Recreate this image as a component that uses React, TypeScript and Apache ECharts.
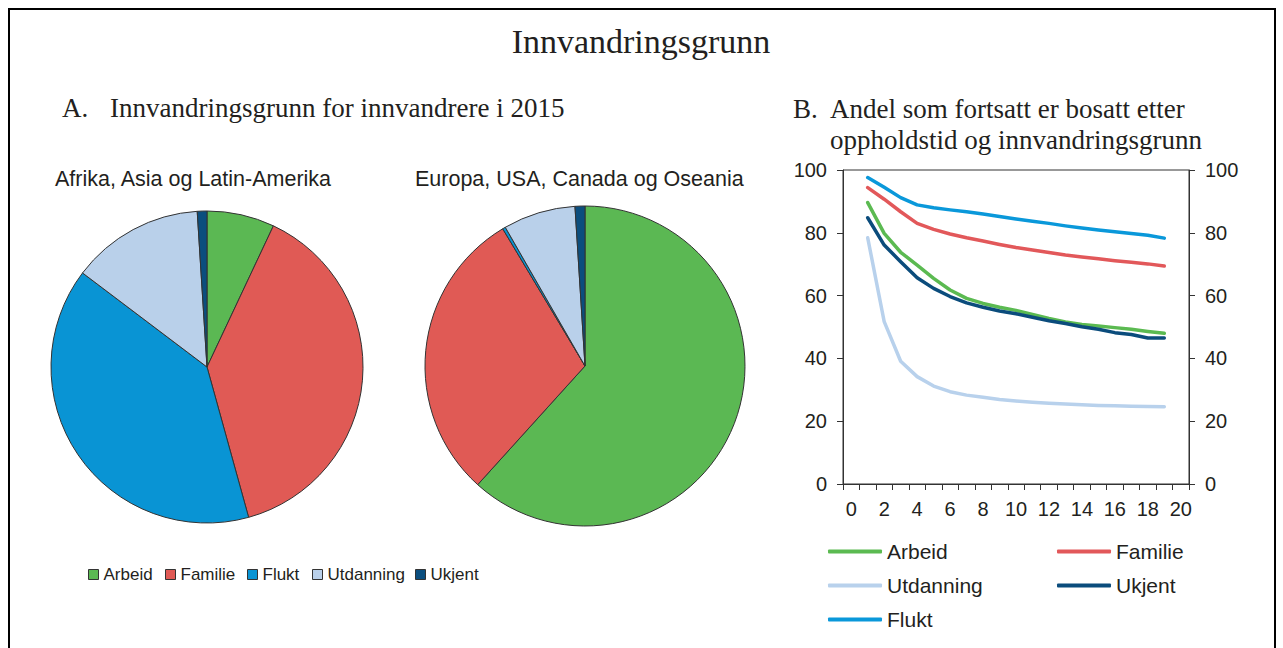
import React, { useEffect, useRef } from 'react';
import * as echarts from 'echarts';

// ---- Data ----
const categories = ['Arbeid', 'Familie', 'Flukt', 'Utdanning', 'Ukjent'];
const afrikaAsiaLatinAmerika = [7.0, 38.7, 39.6, 13.7, 1.0];
const europaUsaCanadaOseania = [61.7, 29.7, 0.3, 7.3, 1.0];

const yearLabels = ['0', '1', '2', '3', '4', '5', '6', '7', '8', '9', '10', '11', '12', '13', '14', '15', '16', '17', '18', '19', '20'];
// values for oppholdstid 1..19 år
const arbeidLine = [89.6, 79.8, 73.8, 69.7, 65.5, 61.8, 59.1, 57.5, 56.3, 55.3, 54.0, 52.7, 51.6, 50.8, 50.3, 49.8, 49.3, 48.6, 48.0];
const familieLine = [94.4, 90.7, 86.7, 83.0, 81.1, 79.6, 78.4, 77.4, 76.3, 75.3, 74.5, 73.7, 72.9, 72.3, 71.7, 71.1, 70.6, 70.1, 69.4];
const utdanningLine = [78.4, 51.7, 39.1, 34.2, 31.2, 29.4, 28.3, 27.6, 26.9, 26.4, 26.0, 25.7, 25.5, 25.2, 25.0, 24.9, 24.8, 24.7, 24.6];
const ukjentLine = [84.8, 76.1, 70.8, 65.7, 62.3, 59.7, 57.7, 56.3, 55.1, 54.2, 53.1, 52.0, 51.1, 50.1, 49.3, 48.2, 47.6, 46.5, 46.5];
const fluktLine = [97.6, 94.5, 91.2, 88.9, 88.0, 87.3, 86.7, 86.0, 85.2, 84.4, 83.7, 83.0, 82.2, 81.5, 80.9, 80.3, 79.8, 79.2, 78.3];

const yTicks = [0, 20, 40, 60, 80, 100];

// ---- Styles ----
const pieColors: Record<string, string> = {
  Arbeid: '#5BB853',
  Familie: '#E05A55',
  Flukt: '#0994D4',
  Utdanning: '#B9D0EA',
  Ukjent: '#0B4E7E',
};
const lineColors: Record<string, string> = {
  Arbeid: '#5BBA51',
  Familie: '#E2585A',
  Utdanning: '#B8D1EC',
  Ukjent: '#0B4C7C',
  Flukt: '#0A98DA',
};
const TXT = '#231F20';
const AX = '#333333';
const SANS = '"Liberation Sans", Arial, sans-serif';
const SERIF = '"Liberation Serif", "Times New Roman", serif';

export default function App() {
  const ref = useRef<HTMLDivElement>(null);

  useEffect(() => {
    if (!ref.current) return;
    const chart = echarts.init(ref.current, null, { renderer: 'svg' });

    const pad = (arr: number[]) => [null, ...arr, null];
    const lineSeriesDefs: [string, number[]][] = [
      ['Arbeid', arbeidLine],
      ['Familie', familieLine],
      ['Utdanning', utdanningLine],
      ['Ukjent', ukjentLine],
      ['Flukt', fluktLine],
    ];

    const pieBase = {
      type: 'pie',
      startAngle: 90,
      clockwise: true,
      silent: true,
      label: { show: false },
      labelLine: { show: false },
      emphasis: { disabled: true },
      itemStyle: { borderColor: '#333', borderWidth: 1 },
    };

    const pieLegendX = [88, 165, 247, 312, 415];
    const pieLegends = categories.map((c, i) => ({
      data: [c],
      left: pieLegendX[i],
      top: 566,
      padding: 0,
      icon: 'rect',
      itemWidth: 10,
      itemHeight: 10,
      selectedMode: false,
      itemStyle: { color: pieColors[c], borderColor: '#333', borderWidth: 1 },
      textStyle: { fontFamily: SANS, fontSize: 17, color: TXT },
    }));

    const lineLegendPos: Record<string, [number, number]> = {
      Arbeid: [828, 541],
      Familie: [1057, 541],
      Utdanning: [828, 575],
      Ukjent: [1057, 575],
      Flukt: [828, 609],
    };
    const lineLegends = lineSeriesDefs.map(([n]) => ({
      data: [n],
      left: lineLegendPos[n][0],
      top: lineLegendPos[n][1],
      padding: 0,
      icon: 'roundRect',
      itemWidth: 54,
      itemHeight: 4,
      selectedMode: false,
      itemStyle: { color: lineColors[n], borderWidth: 0 },
      textStyle: { fontFamily: SANS, fontSize: 21, color: TXT },
    }));

    const yAxisBase = {
      type: 'value',
      min: yTicks[0],
      max: yTicks[yTicks.length - 1],
      interval: 20,
      axisLine: { show: true, lineStyle: { color: AX, width: 1 } },
      axisTick: { show: true, length: 6, lineStyle: { color: AX } },
      splitLine: { show: false },
      axisLabel: { fontFamily: SANS, fontSize: 20, color: TXT, margin: 16 },
    };

    const txt = (text: string, x: number, y: number, font: string, align = 'left') => ({
      type: 'text', x, y, silent: true,
      style: { text, font, fill: TXT, align, textAlign: align, verticalAlign: 'middle', textVerticalAlign: 'middle' },
    });

    const option: any = {
      animation: false,
      backgroundColor: '#ffffff',
      graphic: [
        {
          type: 'rect',
          silent: true,
          shape: { x: 9, y: 9, width: 1266, height: 700 },
          style: { fill: 'none', stroke: '#000', lineWidth: 2 },
        },
        txt('Innvandringsgrunn', 641, 41, '34px ' + SERIF, 'center'),
        txt('A.', 62, 108, '27px ' + SERIF),
        txt('Innvandringsgrunn for innvandrere i 2015', 110, 108, '27px ' + SERIF),
        txt('Afrika, Asia og Latin-Amerika', 55, 179, '21.5px ' + SANS),
        txt('Europa, USA, Canada og Oseania', 415, 179, '21.5px ' + SANS),
        txt('B.', 793, 109, '27px ' + SERIF),
        txt('Andel som fortsatt er bosatt etter', 830, 109, '27px ' + SERIF),
        txt('oppholdstid og innvandringsgrunn', 830, 140, '27px ' + SERIF),
      ],
      legend: [...pieLegends, ...lineLegends],
      grid: {
        left: 843, top: 170, width: 346, height: 314,
        show: true, borderColor: AX, borderWidth: 1, backgroundColor: 'transparent',
        containLabel: false,
      },
      xAxis: {
        type: 'category',
        data: yearLabels,
        boundaryGap: true,
        axisLine: { show: true, lineStyle: { color: AX, width: 1 } },
        axisTick: { show: true, interval: 0, length: 6, lineStyle: { color: AX } },
        axisLabel: { interval: 1, fontFamily: SANS, fontSize: 20, color: TXT, margin: 15 },
        splitLine: { show: false },
      },
      yAxis: [
        { ...yAxisBase, position: 'left' },
        { ...yAxisBase, position: 'right' },
      ],
      series: [
        {
          ...pieBase,
          name: 'Afrika, Asia og Latin-Amerika',
          center: [207, 367],
          radius: 156,
          data: categories.map((c, i) => ({ name: c, value: afrikaAsiaLatinAmerika[i], itemStyle: { color: pieColors[c] } })),
        },
        {
          ...pieBase,
          name: 'Europa, USA, Canada og Oseania',
          center: [585, 366],
          radius: 160,
          data: categories.map((c, i) => ({ name: c, value: europaUsaCanadaOseania[i], itemStyle: { color: pieColors[c] } })),
        },
        ...lineSeriesDefs.map(([n, arr]) => ({
          type: 'line',
          name: n,
          data: pad(arr),
          xAxisIndex: 0,
          yAxisIndex: 0,
          symbol: 'none',
          showSymbol: false,
          silent: true,
          connectNulls: false,
          color: lineColors[n],
          lineStyle: { color: lineColors[n], width: 3.5, cap: 'round', join: 'round' },
          emphasis: { disabled: true },
        })),
      ],
    };

    chart.setOption(option);
    return () => chart.dispose();
  }, []);

  return (
    <div
      ref={ref}
      style={{ position: 'absolute', left: 0, top: 0, width: 1283, height: 648, background: '#fff' }}
    />
  );
}
